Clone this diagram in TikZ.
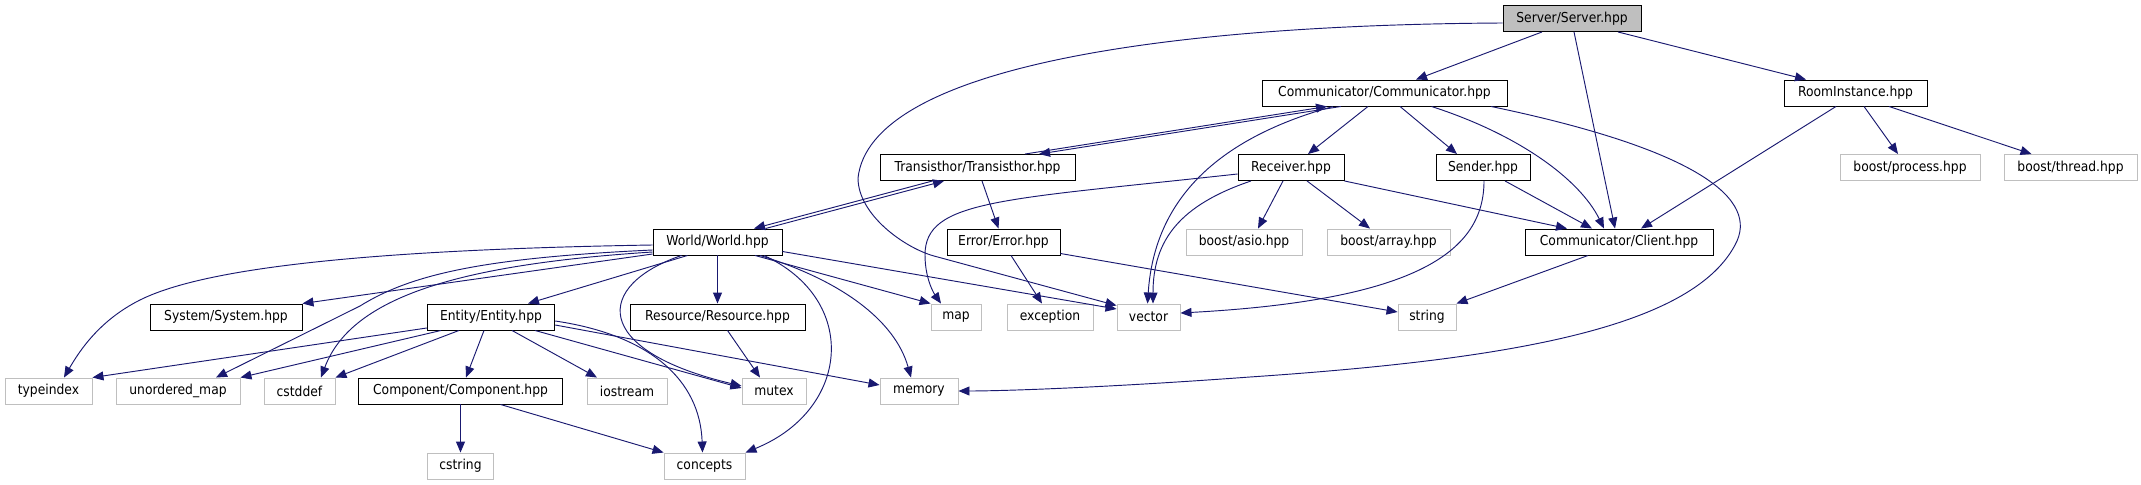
\documentclass[tikz,border=0pt]{standalone}
\usepackage{fontspec}
\setmainfont{DejaVu Sans}[FakeStretch=0.9]
\usepackage{tikz}
\usetikzlibrary{arrows.meta,calc}

\definecolor{edgeblue}{HTML}{191970}
\definecolor{extgray}{HTML}{BFBFBF}

\begin{document}
\begin{tikzpicture}[
  x=0.03cm, y=-0.03cm,
  font=\fontsize{11.7}{14}\selectfont,
  hdr/.style={draw=black,line width=0.8pt,fill=white,minimum width=#1*0.03cm,minimum height=0.78cm,inner sep=0pt},
  exthdr/.style={hdr=#1,draw=extgray},
  curhdr/.style={hdr=#1,fill=extgray},
  dep/.style={draw=edgeblue,line width=0.8pt,-{Triangle[length=0.33cm,width=0.27cm]}}
]
  \useasboundingbox (0,0) rectangle (2141,485);

  \node[curhdr=138] (srv) at (1572,18.5) {Server/Server.hpp};

  \node[hdr=245] (com) at (1384.5,93) {Communicator/Communicator.hpp};
  \node[hdr=143] (room) at (1855.5,93) {RoomInstance.hpp};

  \node[hdr=195] (trans) at (977.5,167.5) {Transisthor/Transisthor.hpp};
  \node[hdr=106] (recv) at (1291,167.5) {Receiver.hpp};
  \node[hdr=94] (send) at (1483,167.5) {Sender.hpp};
  \node[exthdr=140] (bproc) at (1910,167.5) {boost/process.hpp};
  \node[exthdr=133] (bthr) at (2070.5,167.5) {boost/thread.hpp};

  \node[hdr=129] (world) at (717.5,242) {World/World.hpp};
  \node[hdr=113] (err) at (1003.5,242) {Error/Error.hpp};
  \node[exthdr=116] (basio) at (1244,242) {boost/asio.hpp};
  \node[exthdr=123] (barr) at (1388.5,242) {boost/array.hpp};
  \node[hdr=188] (client) at (1619,242) {Communicator/Client.hpp};

  \node[hdr=152] (sys) at (226,317) {System/System.hpp};
  \node[hdr=127.5] (ent) at (491,317) {Entity/Entity.hpp};
  \node[hdr=175] (res) at (717.5,317) {Resource/Resource.hpp};
  \node[exthdr=50] (map) at (956,317) {map};
  \node[exthdr=86] (exc) at (1050,317) {exception};
  \node[exthdr=63] (vec) at (1148.5,317) {vector};
  \node[exthdr=58] (str) at (1427,317) {string};

  \node[exthdr=87] (tidx) at (48.5,391) {typeindex};
  \node[exthdr=124] (umap) at (178,391) {unordered\_map};
  \node[exthdr=71] (cdef) at (299.5,391) {cstddef};
  \node[hdr=203.5] (comp) at (460.5,391) {Component/Component.hpp};
  \node[exthdr=80] (iost) at (627,391) {iostream};
  \node[exthdr=64] (mtx) at (774,391) {mutex};
  \node[exthdr=78] (mem) at (919,391) {memory};

  \node[exthdr=66] (cstr) at (460.5,466) {cstring};
  \node[exthdr=81] (conc) at (704.5,466) {concepts};

  \draw[dep] ($(srv.south)+(-30,0)$) -- ($(com.north)+(31.5,0)$);
  \draw[dep] ($(srv.south)+(2,0)$) -- ($(client.north)+(-4,0)$);
  \draw[dep] ($(srv.south)+(46,0)$) -- ($(room.north)+(-49.5,0)$);
  \draw[dep] ($(srv.west)+(0,4.5)$) .. controls (1150,25) and (870,70) .. (858,178)
    .. controls (858,215) and (905,248) .. (934,256) -- ($(vec.north west)+(0,2)$);

  \draw[dep] ($(com.south)+(-43.5,0)$) -- ($(trans.north)+(61.5,0)$);
  \draw[dep] ($(trans.north)+(47.5,0)$) -- ($(com.south)+(-57.5,0)$);
  \draw[dep] ($(com.south)+(-16.5,0)$) -- ($(recv.north)+(17,0)$);
  \draw[dep] ($(com.south)+(15.5,0)$) -- ($(send.north)+(-26,0)$);
  \draw[dep] ($(com.south)+(47,0)$) .. controls (1520,135) and (1580,180) .. ($(client.north)+(-15,0)$);
  \draw[dep] ($(com.south)+(-51.5,0)$) .. controls (1230,135) and (1155,190) .. ($(vec.north)+(-1,0)$);
  \draw[dep] ($(com.south)+(106.5,0)$) .. controls (1700,150) and (1760,200) .. (1735,245)
    .. controls (1690,330) and (1500,360) .. (1250,377)
    .. controls (1100,388) and (1000,391) .. (mem.east);

  \draw[dep] ($(room.south)+(-19.5,0)$) -- ($(client.north)+(22,0)$);
  \draw[dep] ($(room.south)+(8.5,0)$) -- ($(bproc.north)+(-12,0)$);
  \draw[dep] ($(room.south)+(33.5,0)$) -- ($(bthr.north)+(-39,0)$);

  \draw[dep] ($(trans.south)+(-45,0)$) -- ($(world.north)+(36.5,0)$);
  \draw[dep] ($(trans.south)+(4.5,0)$) -- ($(err.north)+(-5,0)$);

  \draw[dep] ($(recv.west)+(0,6.5)$) .. controls (1000,200) and (925,200) .. (925,255)
    .. controls (925,280) and (935,295) .. ($(map.north)+(-15,0)$);
  \draw[dep] ($(recv.south)+(-8,0)$) -- ($(basio.north)+(14,0)$);
  \draw[dep] ($(recv.south)+(16,0)$) -- ($(barr.north)+(-18.5,0)$);
  \draw[dep] (recv.south east) -- ($(client.north)+(-52,0)$);
  \draw[dep] ($(recv.south)+(-40,0)$) .. controls (1180,205) and (1153,240) .. ($(vec.north)+(4.5,0)$);

  \draw[dep] ($(send.south)+(22,0)$) -- ($(client.north)+(-27,0)$);
  \draw[dep] ($(send.south)+(1,0)$) .. controls (1484,250) and (1420,300) .. ($(vec.east)+(0,-4)$);

  \draw[dep] ($(client.south)+(-31,0)$) -- (str.north east);

  \draw[dep] ($(world.north)+(48,0)$) -- ($(trans.south)+(-33.5,0)$);
  \draw[dep] ($(world.west)+(0,3)$) .. controls (350,250) and (200,270) .. (140,300)
    .. controls (100,320) and (80,350) .. ($(tidx.north)+(15.5,0)$);
  \draw[dep] ($(world.west)+(0,8)$) .. controls (480,258) and (410,275) .. (360,306) -- ($(umap.north)+(38,0)$);
  \draw[dep] ($(world.west)+(0,10)$) .. controls (450,265) and (350,300) .. ($(cdef.north)+(21.5,0)$);
  \draw[dep] ($(world.west)+(0,12)$) -- (sys.north east);
  \draw[dep] ($(world.south)+(-30,0)$) -- ($(ent.north)+(37,0)$);
  \draw[dep] (world) -- (res);
  \draw[dep] ($(world.south)+(-36,0)$) .. controls (595,285) and (590,350) .. ($(mtx.west)+(0,-5)$);
  \draw[dep] ($(world.south)+(37.5,0)$) -- (map.north west);
  \draw[dep] ($(world.east)+(0,9.5)$) -- ($(vec.west)+(0,-8)$);
  \draw[dep] ($(world.south)+(42.5,0)$) .. controls (840,280) and (895,320) .. ($(mem.north)+(-8,0)$);
  \draw[dep] ($(world.south)+(46.5,0)$) .. controls (860,300) and (850,410) .. (conc.north east);

  \draw[dep] ($(err.south)+(7.5,0)$) -- ($(exc.north)+(-8,0)$);
  \draw[dep] ($(err.east)+(0,11.5)$) -- ($(str.west)+(0,-5)$);

  \draw[dep] ($(ent.west)+(0,11)$) -- (tidx.north east);
  \draw[dep] ($(ent.south)+(-50,0)$) -- (umap.north east);
  \draw[dep] ($(ent.south)+(-32,0)$) -- (cdef.north east);
  \draw[dep] ($(ent.south)+(-7,0)$) -- ($(comp.north)+(5.5,0)$);
  \draw[dep] ($(ent.south)+(21,0)$) -- ($(iost.north)+(-30,0)$);
  \draw[dep] ($(ent.south)+(44,0)$) -- ($(mtx.west)+(0,-3)$);
  \draw[dep] ($(ent.east)+(0,8)$) -- ($(mem.west)+(0,-6)$);
  \draw[dep] ($(ent.east)+(0,4)$) .. controls (650,335) and (700,380) .. ($(conc.north)+(-2,0)$);

  \draw[dep] ($(res.south)+(10,0)$) -- ($(mtx.north)+(-14,0)$);

  \draw[dep] (comp) -- (cstr);
  \draw[dep] ($(comp.south)+(40,0)$) -- (conc.north west);
\end{tikzpicture}
\end{document}
